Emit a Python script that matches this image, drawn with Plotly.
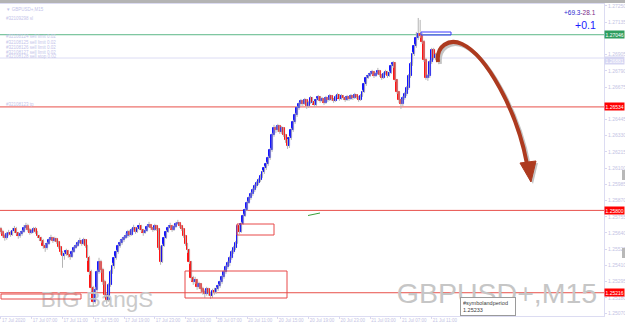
import plotly.graph_objects as go

# ---------------- data (GBPUSD+, M15) ----------------
opens = [
1.25669,1.25648,1.25620,1.25606,1.25634,1.25641,1.25627,1.25655,1.25669,1.25641,
1.25620,1.25634,1.25648,1.25676,1.25691,1.25662,1.25641,1.25655,1.25669,1.25648,
1.25620,1.25606,1.25584,1.25549,1.25535,1.25563,1.25591,1.25606,1.25584,1.25598,
1.25577,1.25542,1.25506,1.25478,1.25492,1.25513,1.25485,1.25471,1.25506,1.25535,
1.25549,1.25570,1.25584,1.25563,1.25591,1.25549,1.25464,1.25364,1.25251,1.25152,
1.25237,1.25364,1.25435,1.25379,1.25294,1.25202,1.25166,1.25272,1.25364,1.25407,
1.25464,1.25506,1.25549,1.25570,1.25591,1.25606,1.25620,1.25648,1.25627,1.25662,
1.25676,1.25648,1.25669,1.25691,1.25662,1.25641,1.25655,1.25683,1.25698,1.25676,
1.25662,1.25691,1.25669,1.25535,1.25435,1.25549,1.25606,1.25648,1.25676,1.25691,
1.25662,1.25683,1.25705,1.25712,1.25691,1.25669,1.25620,1.25563,1.25520,1.25435,
1.25322,1.25294,1.25308,1.25258,1.25279,1.25244,1.25223,1.25209,1.25244,1.25216,
1.25195,1.25230,1.25223,1.25244,1.25265,1.25294,1.25329,1.25364,1.25400,1.25428,
1.25464,1.25506,1.25535,1.25570,1.25691,1.25648,1.25705,1.25762,1.25804,1.25854,
1.25889,1.25917,1.25946,1.25974,1.25995,1.26016,1.26045,1.26073,1.26102,1.26130,
1.26172,1.26229,1.26336,1.26385,1.26371,1.26399,1.26357,1.26385,1.26336,1.26300,
1.26258,1.26314,1.26371,1.26428,1.26478,1.26527,1.26556,1.26577,1.26556,1.26584,
1.26541,1.26563,1.26598,1.26570,1.26549,1.26584,1.26605,1.26577,1.26591,1.26563,
1.26598,1.26584,1.26612,1.26591,1.26577,1.26605,1.26619,1.26591,1.26612,1.26598,
1.26584,1.26605,1.26591,1.26612,1.26598,1.26619,1.26605,1.26584,1.26612,1.26641,
1.26697,1.26740,1.26754,1.26768,1.26782,1.26754,1.26768,1.26790,1.26761,1.26740,
1.26768,1.26782,1.26754,1.26775,1.26825,1.26846,1.26726,1.26641,1.26584,1.26556,
1.26598,1.26626,1.26669,1.26754,1.26839,1.26910,1.26967,1.27024,1.27052,1.27038,
1.26995,1.26868,1.26740,1.26754,1.26853,1.26938,1.26882]

highs = [
1.25683,1.25662,1.25634,1.25648,1.25662,1.25655,1.25676,1.25690,1.25683,1.25648,
1.25648,1.25662,1.25697,1.25712,1.25705,1.25676,1.25669,1.25683,1.25683,1.25655,
1.25627,1.25613,1.25598,1.25563,1.25577,1.25606,1.25627,1.25613,1.25613,1.25606,
1.25584,1.25549,1.25513,1.25506,1.25528,1.25520,1.25492,1.25520,1.25549,1.25563,
1.25584,1.25606,1.25591,1.25606,1.25598,1.25556,1.25478,1.25379,1.25265,1.25258,
1.25379,1.25464,1.25450,1.25393,1.25308,1.25216,1.25286,1.25379,1.25428,1.25478,
1.25520,1.25563,1.25591,1.25606,1.25620,1.25641,1.25662,1.25662,1.25676,1.25698,
1.25683,1.25683,1.25712,1.25698,1.25669,1.25669,1.25698,1.25719,1.25705,1.25683,
1.25705,1.25698,1.25676,1.25549,1.25563,1.25620,1.25662,1.25691,1.25712,1.25698,
1.25698,1.25719,1.25733,1.25719,1.25698,1.25676,1.25627,1.25570,1.25528,1.25442,
1.25336,1.25329,1.25315,1.25294,1.25286,1.25258,1.25237,1.25258,1.25251,1.25223,
1.25244,1.25251,1.25258,1.25279,1.25308,1.25343,1.25379,1.25414,1.25442,1.25478,
1.25520,1.25549,1.25584,1.25705,1.25698,1.25719,1.25776,1.25818,1.25868,1.25903,
1.25931,1.25960,1.25988,1.26009,1.26031,1.26059,1.26087,1.26116,1.26144,1.26187,
1.26243,1.26350,1.26407,1.26399,1.26414,1.26407,1.26399,1.26392,1.26343,1.26307,
1.26328,1.26385,1.26442,1.26492,1.26541,1.26570,1.26591,1.26584,1.26598,1.26591,
1.26577,1.26612,1.26605,1.26577,1.26598,1.26619,1.26612,1.26605,1.26598,1.26612,
1.26605,1.26626,1.26619,1.26598,1.26619,1.26634,1.26626,1.26626,1.26619,1.26605,
1.26619,1.26612,1.26626,1.26619,1.26634,1.26626,1.26612,1.26626,1.26655,1.26712,
1.26754,1.26768,1.26782,1.26797,1.26790,1.26782,1.26811,1.26797,1.26768,1.26782,
1.26797,1.26790,1.26790,1.26839,1.26860,1.26853,1.26733,1.26648,1.26591,1.26612,
1.26641,1.26683,1.26768,1.26853,1.26924,1.26981,1.27066,1.27165,1.27151,1.27059,
1.27009,1.26882,1.26768,1.26868,1.26953,1.26953,1.26917]

lows = [
1.25634,1.25606,1.25585,1.25592,1.25620,1.25613,1.25620,1.25641,1.25627,1.25599,
1.25606,1.25620,1.25641,1.25662,1.25648,1.25627,1.25634,1.25641,1.25634,1.25606,
1.25585,1.25570,1.25528,1.25506,1.25521,1.25556,1.25584,1.25570,1.25577,1.25563,
1.25528,1.25485,1.25393,1.25450,1.25478,1.25464,1.25450,1.25464,1.25499,1.25528,
1.25542,1.25563,1.25549,1.25556,1.25535,1.25442,1.25343,1.25223,1.25117,1.25138,
1.25223,1.25350,1.25357,1.25272,1.25180,1.25138,1.25152,1.25258,1.25350,1.25386,
1.25450,1.25492,1.25535,1.25556,1.25577,1.25598,1.25606,1.25613,1.25620,1.25648,
1.25634,1.25641,1.25662,1.25648,1.25620,1.25634,1.25648,1.25676,1.25662,1.25648,
1.25655,1.25655,1.25520,1.25414,1.25428,1.25542,1.25598,1.25641,1.25669,1.25648,
1.25655,1.25676,1.25698,1.25676,1.25655,1.25606,1.25549,1.25499,1.25421,1.25301,
1.25272,1.25279,1.25237,1.25244,1.25223,1.25202,1.25180,1.25195,1.25195,1.25173,
1.25180,1.25202,1.25209,1.25230,1.25251,1.25279,1.25315,1.25350,1.25386,1.25407,
1.25450,1.25492,1.25520,1.25563,1.25634,1.25641,1.25698,1.25754,1.25797,1.25847,
1.25875,1.25903,1.25931,1.25960,1.25981,1.26002,1.26031,1.26059,1.26087,1.26116,
1.26158,1.26215,1.26322,1.26350,1.26357,1.26343,1.26343,1.26322,1.26279,1.26236,
1.26243,1.26300,1.26357,1.26414,1.26463,1.26513,1.26541,1.26541,1.26549,1.26520,
1.26527,1.26556,1.26556,1.26534,1.26541,1.26577,1.26563,1.26570,1.26549,1.26556,
1.26570,1.26577,1.26577,1.26563,1.26570,1.26598,1.26577,1.26584,1.26584,1.26570,
1.26577,1.26577,1.26584,1.26584,1.26591,1.26591,1.26570,1.26577,1.26605,1.26634,
1.26683,1.26733,1.26747,1.26761,1.26740,1.26747,1.26761,1.26747,1.26726,1.26733,
1.26761,1.26740,1.26747,1.26768,1.26811,1.26712,1.26626,1.26563,1.26520,1.26541,
1.26584,1.26612,1.26655,1.26740,1.26825,1.26896,1.26953,1.27009,1.27024,1.26981,
1.26853,1.26726,1.26719,1.26740,1.26839,1.26868,1.26868]

closes = [
1.25648,1.25620,1.25606,1.25634,1.25641,1.25627,1.25655,1.25669,1.25641,1.25620,
1.25634,1.25648,1.25676,1.25691,1.25662,1.25641,1.25655,1.25669,1.25648,1.25620,
1.25606,1.25584,1.25549,1.25535,1.25563,1.25591,1.25606,1.25584,1.25598,1.25577,
1.25542,1.25506,1.25478,1.25492,1.25513,1.25485,1.25471,1.25506,1.25535,1.25549,
1.25570,1.25584,1.25563,1.25591,1.25549,1.25464,1.25364,1.25251,1.25152,1.25237,
1.25364,1.25435,1.25379,1.25294,1.25202,1.25166,1.25272,1.25364,1.25407,1.25464,
1.25506,1.25549,1.25570,1.25591,1.25606,1.25620,1.25648,1.25627,1.25662,1.25676,
1.25648,1.25669,1.25691,1.25662,1.25641,1.25655,1.25683,1.25698,1.25676,1.25662,
1.25691,1.25669,1.25535,1.25435,1.25549,1.25606,1.25648,1.25676,1.25691,1.25662,
1.25683,1.25705,1.25712,1.25691,1.25669,1.25620,1.25563,1.25520,1.25435,1.25322,
1.25294,1.25308,1.25258,1.25279,1.25244,1.25223,1.25209,1.25244,1.25216,1.25195,
1.25230,1.25223,1.25244,1.25265,1.25294,1.25329,1.25364,1.25400,1.25428,1.25464,
1.25506,1.25535,1.25570,1.25691,1.25648,1.25705,1.25762,1.25804,1.25854,1.25889,
1.25917,1.25946,1.25974,1.25995,1.26016,1.26045,1.26073,1.26102,1.26130,1.26172,
1.26229,1.26336,1.26385,1.26371,1.26399,1.26357,1.26385,1.26336,1.26300,1.26258,
1.26314,1.26371,1.26428,1.26478,1.26527,1.26556,1.26577,1.26556,1.26584,1.26541,
1.26563,1.26598,1.26570,1.26549,1.26584,1.26605,1.26577,1.26591,1.26563,1.26598,
1.26584,1.26612,1.26591,1.26577,1.26605,1.26619,1.26591,1.26612,1.26598,1.26584,
1.26605,1.26591,1.26612,1.26598,1.26619,1.26605,1.26584,1.26612,1.26641,1.26697,
1.26740,1.26754,1.26768,1.26782,1.26754,1.26768,1.26790,1.26761,1.26740,1.26768,
1.26782,1.26754,1.26775,1.26825,1.26846,1.26726,1.26641,1.26584,1.26556,1.26598,
1.26626,1.26669,1.26754,1.26839,1.26910,1.26967,1.27024,1.27052,1.27038,1.26995,
1.26868,1.26740,1.26754,1.26853,1.26938,1.26882,1.26903]

time_labels = ["17 Jul 2020", "17 Jul 07:00", "17 Jul 11:00", "17 Jul 15:00", "17 Jul 19:00",
               "17 Jul 23:00", "20 Jul 03:00", "20 Jul 07:00", "20 Jul 11:00", "20 Jul 15:00",
               "20 Jul 19:00", "20 Jul 23:00", "21 Jul 03:00", "21 Jul 07:00", "21 Jul 11:00"]
label_bars = [0, 16, 32, 48, 64, 80, 96, 112, 128, 144, 160, 176, 192, 208, 224]

price_ticks = [1.27250, 1.27135, 1.26905, 1.26790, 1.26675, 1.26445, 1.26330, 1.26215,
               1.26100, 1.25985, 1.25870, 1.25755, 1.25640, 1.25525, 1.25410, 1.25295,
               1.25180, 1.25070]

level_prices = [1.27046, 1.26881, 1.26534, 1.25800, 1.25216]
level_line_colors = ["#5cb887", "#dcdcf4", "#e8504a", "#e8504a", "#e8504a"]
level_box_colors = ["#2f9e5f", "#d6d6f2", "#ff0000", "#ff0000", "#ff0000"]
level_box_shift = [0, -2, 0, 0, 0]

# ---------------- geometry helpers (decorations only) ----------------
PW, PH, TOP = 604.0, 312.0, 4.0
XR = (-0.5, 313.6)
YR = (1.25051, 1.27264)
def px(x):
    return x / PW
def py(y):
    return 1 - (y - TOP) / PH
def dx(x):
    return XR[0] + x / PW * (XR[1] - XR[0])
def dy(y):
    return YR[1] - (y - TOP) / PH * (YR[1] - YR[0])

idx = list(range(len(closes)))
body_base = [min(o, c) for o, c in zip(opens, closes)]
body_h = [max(abs(c - o), 0.00003) for o, c in zip(opens, closes)]
body_col = ["#0000ff" if c >= o else "#ff0000" for o, c in zip(opens, closes)]

wx, wy = [], []
for i, h, l in zip(idx, highs, lows):
    wx += [i, i, None]
    wy += [l, h, None]

fig = go.Figure()
# watermarks drawn first so that candles lie above them
fig.add_trace(go.Scatter(x=[dx(97), dx(497)], y=[dy(301), dy(296)], mode="text",
                         text=["BIG BangS", "GBPUSD+,M15"], hoverinfo="skip",
                         textfont=dict(family="Liberation Sans, Arial", size=[22.5, 28.5],
                                       color=["#cacaca", "#c6c6c6"])))
fig.add_trace(go.Scatter(x=wx, y=wy, mode="lines", line=dict(color="#b4b4b4", width=1),
                         hoverinfo="skip"))
fig.add_trace(go.Bar(x=idx, y=body_h, base=body_base, width=1.0,
                     marker=dict(color=body_col, line=dict(width=0.9, color=body_col))))

shapes = []
shapes.append(dict(type="rect", xref="paper", yref="paper", x0=0, x1=625 / PW,
                   y0=py(3), y1=py(0), fillcolor="#b4b4b4", line=dict(width=0), layer="above"))
for p, c in zip(level_prices, level_line_colors):
    shapes.append(dict(type="line", xref="paper", yref="y", x0=0, x1=1, y0=p, y1=p,
                       line=dict(color=c, width=1), layer="below"))
for (x0, y0, x1, y1) in [(1, 294, 81, 299), (185, 271, 287, 298), (237, 224, 274, 235)]:
    shapes.append(dict(type="rect", xref="paper", yref="paper", x0=px(x0), x1=px(x1),
                       y0=py(y1), y1=py(y0), line=dict(color="#e84848", width=1)))
shapes.append(dict(type="rect", xref="paper", yref="paper", x0=px(421), x1=px(451),
                   y0=py(35), y1=py(32), line=dict(color="#3a3aff", width=1)))
shapes.append(dict(type="line", xref="paper", yref="paper", x0=px(308), x1=px(320),
                   y0=py(215.5), y1=py(213), line=dict(color="#3aa03a", width=1)))
for (y0, y1) in [(170, 180), (248, 258)]:
    shapes.append(dict(type="rect", xref="paper", yref="paper", x0=px(622), x1=px(625),
                       y0=py(y1), y1=py(y0), fillcolor="#b8b8b8", line=dict(width=0)))

def arrow_path(ox, oy):
    pts = [(438, 62), (436, 46), (449, 38), (462, 44), (486, 55), (517, 110), (527, 164)]
    p = [(px(x + ox), py(y + oy)) for x, y in pts]
    return ("M {:.4f},{:.4f} C {:.4f},{:.4f} {:.4f},{:.4f} {:.4f},{:.4f} "
            "C {:.4f},{:.4f} {:.4f},{:.4f} {:.4f},{:.4f}").format(
        *p[0], *p[1], *p[2], *p[3], *p[4], *p[5], *p[6])
def head_path(ox, oy):
    pts = [(520, 163), (536, 161), (531, 182)]
    p = [(px(x + ox), py(y + oy)) for x, y in pts]
    return "M {:.4f},{:.4f} L {:.4f},{:.4f} L {:.4f},{:.4f} Z".format(*p[0], *p[1], *p[2])

shapes.append(dict(type="path", xref="paper", yref="paper", path=arrow_path(2, 2),
                   line=dict(color="#c4c4c4", width=4)))
shapes.append(dict(type="path", xref="paper", yref="paper", path=head_path(2, 2),
                   fillcolor="#c4c4c4", line=dict(width=0)))
shapes.append(dict(type="path", xref="paper", yref="paper", path=arrow_path(0, 0),
                   line=dict(color="#ad3a1f", width=4)))
shapes.append(dict(type="path", xref="paper", yref="paper", path=head_path(0, 0),
                   fillcolor="#ad3a1f", line=dict(color="#ad3a1f", width=1)))

ann = []
for p, c, s in zip(level_prices, level_box_colors, level_box_shift):
    ann.append(dict(text=f"{p:.5f}", x=1, y=p, xref="paper", yref="y", xanchor="left",
                    yshift=s, showarrow=False, bgcolor=c, borderpad=0.5,
                    font=dict(family="Liberation Sans, Arial", size=5, color="white")))
tl_texts = [("▼ GBPUSD+,M15", 5), ("#32109298 sl", 14), ("#32108124 sell limit 0.02", 32),
            ("#32108125 sell limit 0.02", 38), ("#32108126 sell limit 0.02", 43),
            ("#32108127 sell limit 0.02", 48), ("#32108128 sell stop 0.02", 52),
            ("#32108123 tp", 100)]
for t, yy in tl_texts:
    ann.append(dict(text=t, x=px(4), y=py(yy), xref="paper", yref="paper", xanchor="left",
                    showarrow=False, font=dict(family="Liberation Sans, Arial", size=4.5, color="#c4c4ea")))
ann.append(dict(text="<span style='color:#2a2ad0'>+69.3</span><span style='color:#7a2a8a'>-28.1</span>",
                x=px(598), y=py(7.5), xref="paper", yref="paper", xanchor="right", showarrow=False,
                font=dict(family="Liberation Sans, Arial", size=6.5)))
ann.append(dict(text="+0.1", x=px(598), y=py(17.5), xref="paper", yref="paper", xanchor="right",
                showarrow=False, font=dict(family="Liberation Sans, Arial", size=10.5, color="#1a1aff")))
ann.append(dict(text="#symbolandperiod<br>1.25233", x=px(460), y=py(297), xref="paper", yref="paper",
                xanchor="left", yanchor="top", align="left", showarrow=False, bgcolor="white",
                bordercolor="#9a9a9a", borderwidth=1, borderpad=2, width=50,
                font=dict(family="Liberation Sans, Arial", size=5.5, color="#404040")))

fig.update_layout(
    width=625, height=326, margin=dict(l=0, r=21, t=4, b=10, autoexpand=False),
    paper_bgcolor="white", plot_bgcolor="white", showlegend=False, bargap=0,
    shapes=shapes, annotations=ann,
    xaxis=dict(range=list(XR), showgrid=False, zeroline=False, automargin=False,
               tickvals=label_bars, ticktext=time_labels, ticklabelposition="outside right",
               tickangle=0,
               tickfont=dict(family="Liberation Sans, Arial", size=4.5, color="#c4c4e4"),
               ticks="outside", ticklen=2, tickcolor="#d8d8f0",
               showline=True, linecolor="#dcdcf2", linewidth=1, mirror=True),
    yaxis=dict(range=list(YR), side="right", showgrid=False, zeroline=False, automargin=False,
               tickvals=price_ticks, ticktext=[f"{v:.5f}" for v in price_ticks],
               tickfont=dict(family="Liberation Sans, Arial", size=5, color="#c4c4e4"),
               ticks="outside", ticklen=2, tickcolor="#d8d8f0",
               showline=True, linecolor="#dcdcf2", linewidth=1, mirror=True),
)

fig.write_html("out.html")
